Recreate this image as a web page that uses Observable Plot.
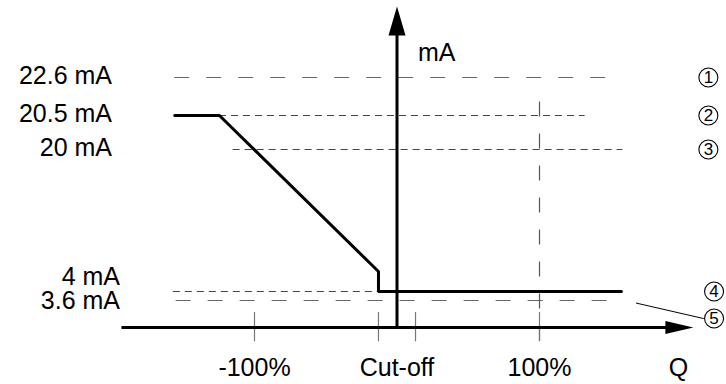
<!DOCTYPE html>
<html>
<head>
<meta charset="utf-8">
<script src="https://cdn.jsdelivr.net/npm/d3@7"></script>
<script src="https://cdn.jsdelivr.net/npm/@observablehq/plot@0.6"></script>
<style>
  html, body { margin: 0; padding: 0; background: #fff; }
  #chart svg { display: block; }
</style>
</head>
<body>
<div id="chart"></div>
<script>
// ---- data ----
const levels      = [22.6, 20.5, 20, 4, 3.6];            // mA
const levelLabels = ["22.6 mA", "20.5 mA", "20 mA", "4 mA", "3.6 mA"];
const guideStart  = [-156, -124.6, -115, -157, -155];      // % of Q
const guideEnd    = [158, 132, 158.5, 158, 158];           // % of Q
const guideLong   = [true, false, false, false, true];     // long-dash style?

const outputQ  = [-156, -124.6, -13, -13, 157.5];          // % of Q
const outputMA = [20.5, 20.5, 6.25, 4, 4];                 // mA

const qTicks      = [-100, -13, 13, 100];
const qLabelPos   = [-100, 0, 100, 197.5];
const qLabels     = ["-100%", "Cut-off", "100%", "Q"];

const markerNums   = ["1", "2", "3", "4", "5"];
const markerLevels = [22.6, 20.5, 20, 4, 3.6];
const markerQ      = [218.5, 218.5, 218.5, 222.5, 222.5];

const axisQ  = [-193, 190];   // horizontal axis extent (%)
const axisMA = [0, 25];       // vertical axis extent (mA)
const arrowTipQ = 208, arrowTipMA = 26;
const fullScaleQ = 100, fullScaleTop = 21.45, fullScaleBottom = -1.8;
const leader = [{q: 168, ma: 3.25}, {q: 215, ma: 1.2}];

// The mA axis of this schematic is not to scale: piecewise-linear breakpoints
const maKnots     = [-5, 0, 3.6, 4, 20, 20.5, 22.6, 26];
const schematicUp = [-37.5, 0, 27, 36, 178, 212, 250, 321];
const maToSchematic = d3.scaleLinear().domain(maKnots).range(schematicUp);

// ---- derived tables ----
const guides = levels.map((v, i) => ({v, x1: guideStart[i], x2: guideEnd[i], long: guideLong[i]}));
const labelRows = levels.map((v, i) => ({v, label: levelLabels[i], i}));
const output = outputQ.map((q, i) => ({q, ma: outputMA[i]}));
const markers = markerNums.map((n, i) => ({n, v: markerLevels[i], q: markerQ[i], i}));
const qLabelRows = qLabels.map((t, i) => ({t, q: qLabelPos[i]}));

function arrowSymbol(w, l) {
  return {
    draw(ctx) {
      ctx.moveTo(0, 0);
      ctx.lineTo(-w / 2, l);
      ctx.lineTo(w / 2, l);
      ctx.closePath();
    }
  };
}

const font = "'Liberation Sans', Arial, Helvetica, sans-serif";
const fs = 25;

const chart = Plot.plot({
  width: 726,
  height: 384,
  style: {fontFamily: font, background: "#fff"},
  x: {domain: [-100, 100], range: [254, 539], axis: null},
  y: {transform: v => maToSchematic(v), domain: [-37.5, 321], range: [364.5, 6], axis: null},
  marks: [
    // guide lines
    Plot.ruleY(guides.filter(d => d.long), {y: "v", x1: "x1", x2: "x2", stroke: "#666", strokeWidth: 1.2, strokeDasharray: "15,17"}),
    Plot.ruleY(guides.filter(d => !d.long), {y: "v", x1: "x1", x2: "x2", stroke: "#444", strokeWidth: 1.2, strokeDasharray: "7,5"}),
    // 100% vertical guide
    Plot.ruleX([fullScaleQ], {x: d => d, y1: fullScaleBottom, y2: fullScaleTop, stroke: "#555", strokeWidth: 1.2, strokeDasharray: "15,17"}),
    // tick marks
    Plot.ruleX(qTicks, {x: d => d, y1: 2, y2: -1.9, stroke: "#777", strokeWidth: 1.2}),
    // axes
    Plot.ruleY([0], {x1: axisQ[0], x2: axisQ[1], stroke: "#000", strokeWidth: 3}),
    Plot.ruleX([0], {y1: axisMA[0], y2: axisMA[1], stroke: "#000", strokeWidth: 3}),
    Plot.dot([{q: arrowTipQ, ma: 0}], {x: "q", y: "ma", symbol: arrowSymbol(13, 28), rotate: 90, fill: "#000", stroke: null}),
    Plot.dot([{q: 0, ma: arrowTipMA}], {x: "q", y: "ma", symbol: arrowSymbol(17, 29), fill: "#000", stroke: null}),
    // output curve
    Plot.line(output, {x: "q", y: "ma", stroke: "#000", strokeWidth: 3, strokeLinejoin: "miter", curve: "linear"}),
    // level labels
    Plot.text(labelRows.slice(0, 3), {x: () => -200, y: "v", text: "label", textAnchor: "end", fontSize: fs, dy: -2, fill: "#000"}),
    Plot.text(labelRows.slice(3, 4), {x: () => -200, y: "v", text: "label", textAnchor: "end", fontSize: fs, dx: 8, dy: -15, fill: "#000"}),
    Plot.text(labelRows.slice(4, 5), {x: () => -200, y: "v", text: "label", textAnchor: "end", fontSize: fs, dx: 8, dy: 0, fill: "#000"}),
    // Q labels
    Plot.text(qLabelRows, {x: "q", y: () => 0, text: "t", fontSize: fs, dy: 40, fill: "#000"}),
    // unit label
    Plot.text(["mA"], {x: () => 0, y: () => 23.75, text: d => d, textAnchor: "start", dx: 21, fontSize: fs, fill: "#000"}),
    // leader line
    Plot.line(leader, {x: "q", y: "ma", stroke: "#000", strokeWidth: 1}),
    // circled markers
    Plot.dot(markers.slice(0, 4), {x: "q", y: "v", r: 9.5, fill: "#fff", stroke: "#000", strokeWidth: 1.1}),
    Plot.text(markers.slice(0, 4), {x: "q", y: "v", text: "n", fontSize: 17, fill: "#000"}),
    Plot.dot(markers.slice(4), {x: "q", y: "v", r: 9.5, dy: 18, fill: "#fff", stroke: "#000", strokeWidth: 1.1}),
    Plot.text(markers.slice(4), {x: "q", y: "v", text: "n", dy: 18, fontSize: 17, fill: "#000"})
  ]
});
document.getElementById("chart").appendChild(chart);
</script>
</body>
</html>
